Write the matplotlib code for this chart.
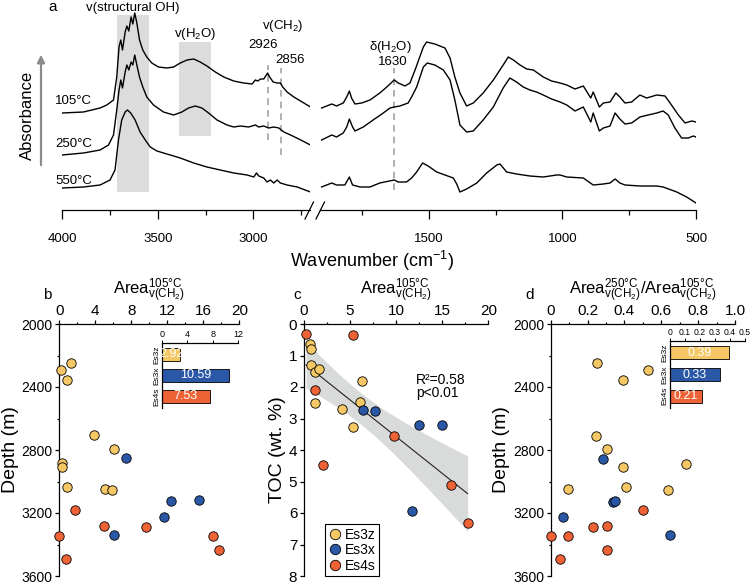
import numpy as np
import matplotlib
matplotlib.use("Agg")
import matplotlib.pyplot as plt
from matplotlib.lines import Line2D
from matplotlib.ticker import MultipleLocator

plt.rcParams['font.family'] = ['Liberation Sans', 'DejaVu Sans']
plt.rcParams['mathtext.fontset'] = 'custom'
plt.rcParams['mathtext.rm'] = 'Liberation Sans'
plt.rcParams['mathtext.it'] = 'Liberation Sans:italic'
plt.rcParams['mathtext.bf'] = 'Liberation Sans:bold'
plt.rcParams['axes.linewidth'] = 0.9

# ---- panel a: FTIR spectra (absorbance in arbitrary units, stacked) ----
wn_left_105 = [4000, 3888, 3801, 3766, 3731, 3714, 3702, 3693, 3684, 3670, 3661, 3651, 3639, 3630,
               3620, 3609, 3595, 3578, 3557, 3531, 3496, 3452, 3417, 3382, 3347, 3312, 3278, 3243,
               3199, 3155, 3103, 3051, 3007, 2990, 2977, 2963, 2946, 2926, 2915, 2897, 2876, 2859,
               2847, 2824, 2789, 2745, 2702]
abs_left_105 = [97, 98, 102, 105, 110, 133, 163, 170, 160, 178, 184, 179, 193, 186,
                197, 187, 170, 160, 153, 147, 143, 142, 143, 147, 150, 151, 148, 144,
                138, 133, 129, 127, 126, 130, 129, 131, 131, 137, 133, 128, 127, 127,
                123, 118, 113, 108, 103]
wn_left_250 = [4000, 3888, 3801, 3757, 3731, 3714, 3702, 3693, 3684, 3670, 3661, 3651, 3639, 3630,
               3620, 3609, 3595, 3578, 3557, 3522, 3470, 3417, 3374, 3339, 3304, 3269, 3234, 3190,
               3138, 3103, 3068, 3025, 2990, 2972, 2946, 2920, 2894, 2867, 2841, 2806, 2763, 2702]
abs_left_250 = [55, 57, 60, 65, 75, 100, 120, 130, 122, 138, 145, 140, 148, 145,
                155, 145, 133, 123, 113, 105, 98, 95, 98, 102, 104, 102, 97, 90,
                85, 83, 84, 83, 85, 83, 84, 82, 83, 82, 78, 75, 71, 65]
wn_left_550 = [4000, 3888, 3801, 3749, 3723, 3705, 3688, 3670, 3658, 3641, 3618, 3592, 3565, 3539,
               3504, 3452, 3382, 3312, 3243, 3173, 3103, 3033, 2998, 2984, 2972, 2946, 2929, 2911,
               2894, 2876, 2859, 2824, 2771, 2702]
abs_left_550 = [22, 23, 25, 30, 40, 70, 90, 98, 100, 97, 90, 78, 70, 63,
                59, 56, 52, 47, 43, 40, 37, 35, 33, 37, 34, 32, 28, 30,
                27, 30, 27, 25, 23, 18]

wn_right_105 = [1902, 1864, 1846, 1821, 1808, 1798, 1790, 1777, 1752, 1721, 1684, 1658, 1630, 1615,
                1590, 1571, 1552, 1521, 1509, 1478, 1440, 1421, 1403, 1384, 1359, 1334, 1297, 1259,
                1222, 1203, 1184, 1159, 1134, 1109, 1072, 1041, 1009, 984, 953, 922, 894, 885,
                862, 847, 822, 800, 785, 766, 741, 710, 685, 647, 616, 597, 566, 541, 516, 500]
abs_right_105 = [102, 106, 104, 107, 113, 119, 112, 106, 107, 110, 117, 123, 130, 127,
                 124, 127, 140, 163, 168, 166, 162, 152, 133, 117, 104, 107, 117, 130,
                 145, 153, 150, 145, 141, 140, 133, 129, 127, 125, 121, 124, 112, 118,
                 103, 107, 108, 117, 113, 107, 108, 115, 112, 115, 114, 107, 95, 87, 89, 88]
wn_right_250 = [1902, 1864, 1846, 1821, 1808, 1798, 1786, 1777, 1746, 1709, 1671, 1646, 1630, 1609,
                1578, 1565, 1546, 1521, 1506, 1478, 1446, 1421, 1403, 1384, 1359, 1334, 1297, 1259,
                1222, 1197, 1172, 1147, 1122, 1097, 1072, 1041, 1009, 984, 953, 922, 894, 885,
                862, 847, 822, 803, 785, 766, 741, 710, 679, 647, 623, 604, 579, 554, 529, 510, 500]
abs_right_250 = [70, 75, 73, 77, 83, 91, 83, 79, 83, 90, 97, 102, 103, 104,
                 107, 113, 123, 143, 147, 145, 140, 130, 110, 85, 78, 79, 90, 103,
                 122, 132, 128, 123, 120, 118, 115, 111, 108, 105, 99, 103, 88, 97,
                 79, 82, 84, 97, 91, 86, 87, 93, 95, 97, 99, 95, 82, 72, 72, 74, 73]
wn_right_550 = [1902, 1864, 1846, 1815, 1798, 1786, 1758, 1721, 1684, 1630, 1615, 1584, 1565, 1546,
                1524, 1503, 1471, 1440, 1409, 1396, 1384, 1359, 1321, 1284, 1246, 1234, 1209, 1172,
                1122, 1072, 1022, 1009, 984, 922, 885, 847, 822, 803, 785, 766, 710, 647,
                623, 572, 535, 500]
abs_right_550 = [23, 27, 25, 25, 33, 25, 23, 23, 27, 30, 28, 28, 32, 38,
                 47, 44, 38, 35, 32, 26, 18, 21, 27, 37, 45, 46, 38, 36,
                 34, 33, 35, 35, 33, 32, 25, 26, 27, 31, 27, 25, 24, 24,
                 23, 18, 13, 7]

# ---- panel b: Area(105C) vs depth ----
b_z_area = [1.26, 0.19, 0.81, 3.85, 6.04, 0.33, 0.26, 0.81, 5.07, 5.81]
b_z_depth = [2248, 2295, 2358, 2707, 2791, 2884, 2909, 3038, 3048, 3057]
b_x_area = [7.41, 12.37, 15.56, 11.63, 6.11]
b_x_depth = [2853, 3126, 3120, 3227, 3337]
b_s_area = [1.70, 5.00, 9.59, 0.0, 17.04, 0.74, 17.74]
b_s_depth = [3183, 3284, 3288, 3343, 3343, 3495, 3436]

# ---- panel c: Area(105C) vs TOC ----
c_z_area = [0.65, 0.72, 0.72, 1.23, 1.66, 1.23, 4.16, 5.35, 6.07, 6.29]
c_z_toc = [0.64, 0.79, 1.29, 1.51, 1.42, 2.50, 2.71, 3.27, 2.48, 1.80]
c_x_area = [6.37, 7.71, 12.44, 14.97, 11.75]
c_x_toc = [2.74, 2.77, 3.20, 3.20, 5.94]
c_s_area = [0.22, 5.28, 1.16, 2.10, 9.76, 15.98, 17.76]
c_s_toc = [0.32, 0.35, 2.11, 4.49, 3.57, 5.12, 6.33]

# ---- panel d: Area(250C)/Area(105C) vs depth ----
d_z_ratio = [0.250, 0.530, 0.394, 0.246, 0.304, 0.391, 0.732, 0.096, 0.410, 0.638]
d_z_depth = [2248, 2295, 2358, 2709, 2791, 2909, 2886, 3046, 3038, 3057]
d_x_ratio = [0.286, 0.336, 0.349, 0.069, 0.647]
d_x_depth = [2857, 3133, 3122, 3227, 3339]
d_s_ratio = [0.503, 0.228, 0.307, 0.0, 0.096, 0.307, 0.051]
d_s_depth = [3183, 3288, 3284, 3347, 3343, 3436, 3495]

units = ['Es3z', 'Es3x', 'Es4s']
mean_area = [2.92, 10.59, 7.53]
mean_ratio = [0.39, 0.33, 0.21]
colors = ['#F5C765', '#2B57A7', '#EE6336']

W, H = 750, 583
fig = plt.figure(figsize=(7.5, 5.83), dpi=100)


def add_ax(l, t, r, b):
    return fig.add_axes([l / W, 1 - b / H, (r - l) / W, (b - t) / H])


def ftext(x, y, s, **kw):
    kw.setdefault('ha', 'center')
    kw.setdefault('va', 'center')
    return fig.text(x / W, 1 - y / H, s, **kw)


# ================= panel a =================
axL = add_ax(62, 0, 309.5, 210)
axR = add_ax(320, 0, 696, 210)
for ax in (axL, axR):
    ax.patch.set_alpha(0)
    for sp in ('top', 'left', 'right'):
        ax.spines[sp].set_visible(False)
    ax.set_yticks([])
    ax.set_ylim(0, 210)
    ax.tick_params(axis='x', which='major', length=6.5, width=0.9, pad=10, labelsize=9.5)
    ax.tick_params(axis='x', which='minor', length=3.5, width=0.9)
axL.set_xlim(4000, 2707)
axR.set_xlim(1908, 500)
axL.set_xticks([4000, 3500, 3000])
axL.set_xticks([3750, 3250, 2750], minor=True)
axR.set_xticks([1500, 1000, 500])
axR.set_xticks([1750, 1250, 750], minor=True)

axL.axvspan(3714, 3545, ymin=18 / 210, ymax=195 / 210, color='#dcdcdc', lw=0, zorder=0)
axL.axvspan(3389, 3221, ymin=74 / 210, ymax=168 / 210, color='#dcdcdc', lw=0, zorder=0)

dash = dict(color='#a3a3a3', lw=1.2, ls=(0, (4, 3)), zorder=1)
axL.plot([2926, 2926], [70, 145], **dash)
axL.plot([2856, 2856], [55, 142], **dash)
axR.plot([1630, 1630], [20, 142], **dash)

for wn, a in [(wn_left_105, abs_left_105), (wn_left_250, abs_left_250), (wn_left_550, abs_left_550)]:
    axL.plot(wn, a, color='k', lw=1.0, zorder=2)
for wn, a in [(wn_right_105, abs_right_105), (wn_right_250, abs_right_250), (wn_right_550, abs_right_550)]:
    axR.plot(wn, a, color='k', lw=1.0, zorder=2)

# axis break marks
for x0 in (305, 316):
    fig.add_artist(Line2D([x0 / W, (x0 + 8.5) / W], [1 - 219 / H, 1 - 202 / H], color='k', lw=0.9))

ftext(53, 7, 'a', fontsize=11)
ftext(133, 8, 'v(structural OH)', fontsize=9.5)
ftext(195, 34, 'v(H$_2$O)', fontsize=9.5)
ftext(283, 26, 'v(CH$_2$)', fontsize=9.5)
ftext(263, 45, '2926', fontsize=9.5)
ftext(290, 60, '2856', fontsize=9.5)
ftext(390, 47, 'δ(H$_2$O)', fontsize=9.5)
ftext(393, 62, '1630', fontsize=9.5)
ftext(55, 101, '105°C', fontsize=9.5, ha='left')
ftext(55, 144, '250°C', fontsize=9.5, ha='left')
ftext(55, 181, '550°C', fontsize=9.5, ha='left')
ftext(27.5, 115, 'Absorbance', fontsize=12, rotation=90)
ftext(372, 261, 'Wavenumber (cm$^{-1}$)', fontsize=13)
fig.add_artist(matplotlib.patches.FancyArrowPatch((41 / W, 1 - 168 / H), (41 / W, 1 - 52 / H),
                                                  transform=fig.transFigure, arrowstyle='-|>',
                                                  mutation_scale=11, color='#8c8c8c', lw=1.6))

area105 = r'Area$^{\mathrm{105°C}}_{\mathrm{v(CH_2)}}$'
area250 = r'Area$^{\mathrm{250°C}}_{\mathrm{v(CH_2)}}$'


def style_bottom(ax, ylabsize):
    ax.spines['right'].set_visible(False)
    ax.spines['bottom'].set_visible(False)
    ax.xaxis.tick_top()
    ax.xaxis.set_label_position('top')
    ax.tick_params(which='major', length=2.8, width=0.9)
    ax.tick_params(which='minor', length=1.5, width=0.9)
    ax.tick_params(axis='x', labelsize=11, pad=1.5)
    ax.tick_params(axis='y', labelsize=ylabsize, pad=2)


def scatter3(ax, xs, ys):
    for x, y, col in zip(xs, ys, colors):
        ax.scatter(x, y, s=46, color=col, edgecolors='k', linewidths=0.6, zorder=3, clip_on=False)


def inset_bars(ax, vals, xmax, xt, xtl, fmt, xlabsize):
    ax.barh(range(3), vals, height=0.6, color=colors, edgecolor='k', linewidth=0.6)
    ax.set_xlim(0, xmax)
    ax.set_ylim(2.55, -0.55)
    ax.spines['right'].set_visible(False)
    ax.spines['bottom'].set_visible(False)
    ax.patch.set_alpha(0)
    ax.xaxis.tick_top()
    ax.set_xticks(xt)
    ax.set_xticklabels(xtl)
    ax.set_yticks(range(3))
    ax.set_yticklabels(units, rotation=90, va='center')
    ax.tick_params(axis='x', labelsize=xlabsize, length=2, width=0.7, pad=1)
    ax.tick_params(axis='y', labelsize=6, length=0, pad=1)
    for i, v in enumerate(vals):
        ax.text(v / 2, i, fmt % v, color='white', fontsize=9, ha='center', va='center')


# ================= panel b =================
axb = add_ax(59.3, 324, 239.3, 576)
axb.set_xlim(0, 20)
axb.set_ylim(3600, 2000)
axb.xaxis.set_major_locator(MultipleLocator(4))
axb.xaxis.set_minor_locator(MultipleLocator(2))
axb.yaxis.set_major_locator(MultipleLocator(400))
axb.yaxis.set_minor_locator(MultipleLocator(200))
style_bottom(axb, 10)
axb.set_xlabel(area105, fontsize=12, labelpad=6.5)
axb.set_ylabel('Depth (m)', fontsize=14, labelpad=2)
scatter3(axb, [b_z_area, b_x_area, b_s_area], [b_z_depth, b_x_depth, b_s_depth])
ftext(47, 295, 'b', fontsize=11)

axbi = add_ax(161.7, 342.7, 238.3, 408)
inset_bars(axbi, mean_area, 12, [0, 4, 8, 12], ['0', '4', '8', '12'], '%.2f', 6.5)

# ================= panel c =================
axc = add_ax(304, 324, 488.3, 576)
axc.set_xlim(0, 20)
axc.set_ylim(8, 0)
axc.xaxis.set_major_locator(MultipleLocator(5))
axc.xaxis.set_minor_locator(MultipleLocator(2.5))
axc.yaxis.set_major_locator(MultipleLocator(1))
style_bottom(axc, 11)
axc.set_xlabel(area105, fontsize=12, labelpad=6.5)
axc.set_ylabel('TOC (wt. %)', fontsize=14, labelpad=2)

x_all = np.array(c_z_area + c_x_area + c_s_area)
y_all = np.array(c_z_toc + c_x_toc + c_s_toc)
slope, icpt = np.polyfit(x_all, y_all, 1)
n = len(x_all)
resid = y_all - (slope * x_all + icpt)
s = np.sqrt(np.sum(resid ** 2) / (n - 2))
sxx = np.sum((x_all - x_all.mean()) ** 2)
xs = np.linspace(x_all.min(), x_all.max(), 100)
fit = slope * xs + icpt
half = 2.086 * s * np.sqrt(1 / n + (xs - x_all.mean()) ** 2 / sxx)
axc.fill_between(xs, fit - half, fit + half, color='#d9dada', lw=0, zorder=1)
axc.plot(xs, fit, color='#222222', lw=0.8, zorder=2)
scatter3(axc, [c_z_area, c_x_area, c_s_area], [c_z_toc, c_x_toc, c_s_toc])
ftext(416, 379.5, 'R²=0.58', fontsize=10, ha='left')
ftext(416, 393, 'p<0.01', fontsize=10, ha='left')
ftext(297, 295, 'c', fontsize=11)

handles = [Line2D([], [], marker='o', ls='', markersize=7.5, markerfacecolor=c,
                  markeredgecolor='k', markeredgewidth=0.6) for c in colors]
leg = axc.legend(handles, units, loc='lower left', bbox_to_anchor=((325 - 304) / 184.3, 0),
                 borderaxespad=0, fontsize=10, frameon=True, fancybox=False, framealpha=1,
                 edgecolor='k', handletextpad=0.2, labelspacing=0.1, borderpad=0.25,
                 handlelength=1.0)
leg.get_frame().set_linewidth(0.8)

# ================= panel d =================
axd = add_ax(550.7, 324, 735, 576)
axd.set_xlim(0, 1)
axd.set_ylim(3600, 2000)
axd.set_xticks([0, 0.2, 0.4, 0.6, 0.8, 1.0])
axd.set_xticklabels(['0', '0.2', '0.4', '0.6', '0.8', '1.0'])
axd.xaxis.set_minor_locator(MultipleLocator(0.1))
axd.yaxis.set_major_locator(MultipleLocator(400))
axd.yaxis.set_minor_locator(MultipleLocator(200))
style_bottom(axd, 10)
axd.set_xlabel(area250 + '/' + area105, fontsize=12, labelpad=6.5)
axd.set_ylabel('Depth (m)', fontsize=14, labelpad=2)
scatter3(axd, [d_z_ratio, d_x_ratio, d_s_ratio], [d_z_depth, d_x_depth, d_s_depth])
ftext(530, 295, 'd', fontsize=11)

axdi = add_ax(670, 341, 745, 408)
inset_bars(axdi, mean_ratio, 0.5, [0, 0.1, 0.2, 0.3, 0.4, 0.5],
           ['0', '0.1', '0.2', '0.3', '0.4', '0.5'], '%.2f', 6.2)

fig.savefig('out.png', dpi=100)
